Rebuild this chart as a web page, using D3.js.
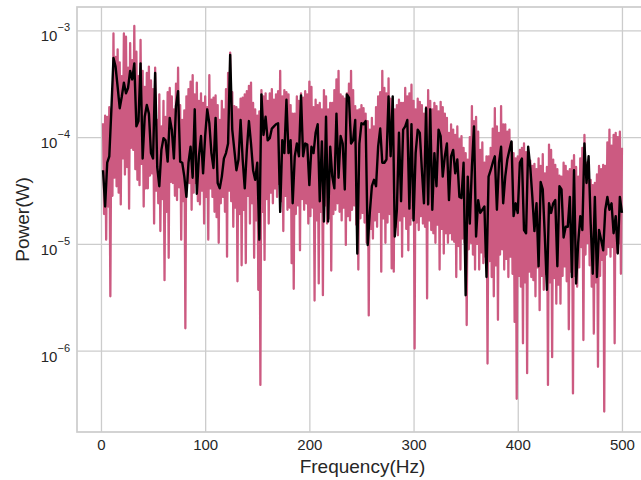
<!DOCTYPE html>
<html>
<head>
<meta charset="utf-8">
<script src="https://cdn.jsdelivr.net/npm/d3@7"></script>
<style>
  body { margin: 0; background: #fff; }
  text { font-family: "Liberation Sans", Arial, sans-serif; fill: #262626; }
</style>
</head>
<body>
<div class="chart"></div>
<script>
// raw spectrum: peaks at even Hz (2 ... 500), dips at odd Hz (3 ... 499)
// values are log10 of power (W)
const rawPeakExp = [
  -3.87, -3.80, -3.81, -3.72, -3.74, -3.03, -3.25, -3.18, -3.30, -3.43,
  -3.03, -3.06, -3.35, -3.12, -3.28, -2.96, -3.20, -3.43, -3.09, -3.38,
  -3.53, -3.40, -3.34, -3.47, -3.55, -3.35, -3.84, -3.60, -3.90, -3.66,
  -3.81, -3.58, -3.54, -3.62, -3.74, -3.50, -3.35, -3.70, -3.84, -3.75,
  -3.62, -3.55, -3.48, -3.42, -3.60, -3.49, -3.66, -3.59, -3.68, -3.62,
  -3.72, -3.42, -3.65, -3.63,
  -3.61, -3.70, -3.84, -3.66, -3.74, -3.55, -3.40, -3.21, -3.58, -3.71,
  -3.72, -3.74, -3.64, -3.63, -3.60, -3.57, -3.52, -3.49, -3.68, -3.74,
  -3.80, -3.76, -3.56, -3.62, -3.59, -3.66, -3.59, -3.55, -3.65, -3.60,
  -3.57, -3.38, -3.62, -3.56, -3.58, -3.60, -3.70, -3.78, -3.78, -3.62,
  -3.66, -3.59, -3.63, -3.57, -3.60, -3.48, -3.53, -3.72, -3.65, -3.70,
  -3.68, -3.74, -3.56, -3.62, -3.74, -3.68,
  -3.68, -3.56, -3.46, -3.38, -3.60, -3.62, -3.64, -3.59, -3.50, -3.38,
  -3.56, -3.71, -3.75, -3.74, -3.70, -3.73, -3.78, -3.85, -3.93, -3.82,
  -3.90, -3.72, -3.62, -3.58, -3.38, -3.54, -3.59, -3.45, -3.64, -3.74,
  -3.74, -3.70, -3.65, -3.68, -3.68, -3.54, -3.62, -3.59, -3.51, -3.66,
  -3.74, -3.64, -3.67, -3.70, -3.78, -3.72, -3.56, -3.66, -3.74, -3.68,
  -3.71, -3.76, -3.67, -3.72, -3.78, -3.82,
  -3.96, -3.88, -3.93, -3.98, -3.90, -4.02, -3.99, -4.10, -4.15, -4.21,
  -4.00, -3.71, -3.85, -3.81, -3.95, -4.12, -4.05, -4.24, -4.18, -4.18,
  -4.10, -3.92, -3.73, -3.90, -3.96, -3.71, -3.88, -3.88, -3.95, -3.93,
  -4.05, -4.15, -4.20, -4.18, -4.12, -4.10, -4.06, -4.14, -4.15, -4.22,
  -4.27, -4.25, -4.30, -4.20, -4.27, -4.16, -4.34, -4.28, -4.07, -4.12,
  -4.21, -4.26, -4.30, -4.36, -4.37, -4.24,
  -4.27, -4.32, -4.30, -4.22, -4.17, -4.28, -4.37, -4.20, -4.10, -3.98,
  -4.24, -4.37, -4.40, -4.45, -4.43, -4.35, -4.27, -4.30, -4.26, -4.27,
  -4.05, -3.93, -4.08, -3.98, -3.96, -4.00, -3.95, -4.10
];

const rawDipExp = [
  -4.72, -4.96, -4.65, -5.49, -4.55, -4.38, -4.46, -4.52, -4.63, -4.20,
  -4.35, -4.28, -4.67, -4.10, -4.12, -4.30, -4.40, -4.45, -4.25, -4.65,
  -4.48, -4.48, -4.36, -4.34, -4.81, -4.50, -4.62, -4.88, -4.58, -5.34,
  -4.70, -5.13, -4.42, -4.43, -4.55, -4.59, -4.47, -4.96, -4.60, -5.79,
  -4.43, -4.43, -4.68, -4.52, -4.43, -4.60, -4.63, -4.50, -4.81, -4.56,
  -4.96, -4.48, -4.56, -4.70,
  -4.75, -4.99, -4.62, -4.56, -4.70, -5.12, -4.50, -4.60, -4.84, -4.66,
  -5.35, -4.72, -5.20, -4.68, -5.18, -4.55, -4.81, -4.62, -5.13, -4.78,
  -5.43, -6.32, -4.70, -5.15, -4.58, -4.81, -4.52, -4.62, -4.48, -4.56,
  -4.44, -4.60, -4.88, -4.55, -4.68, -4.66, -5.18, -5.42, -4.72, -4.64,
  -5.06, -4.58, -4.68, -4.62, -4.81, -4.74, -4.66, -5.53, -4.78, -5.37,
  -4.70, -5.48, -4.64, -4.81, -4.76, -5.25,
  -4.72, -4.68, -4.62, -4.70, -4.78, -4.66, -5.01, -4.74, -4.78, -4.68,
  -4.64, -4.82, -5.24, -4.76, -4.71, -4.80, -4.99, -5.67, -4.86, -4.95,
  -4.78, -4.84, -4.70, -5.26, -4.76, -4.99, -4.80, -4.72, -5.23, -5.26,
  -4.84, -4.92, -4.78, -5.12, -4.74, -4.86, -5.06, -4.82, -4.76, -5.98,
  -4.80, -4.87, -4.74, -4.81, -4.84, -5.51, -4.78, -4.87, -4.90, -4.99,
  -4.82, -5.24, -4.86, -5.09, -4.90, -4.99,
  -4.90, -4.96, -4.98, -5.31, -5.02, -5.24, -4.95, -4.99, -5.76, -5.05,
  -4.99, -5.10, -5.24, -5.00, -5.24, -5.08, -5.18, -5.12, -6.12, -5.16,
  -5.31, -5.49, -5.20, -5.71, -5.10, -5.05, -5.24, -5.14, -5.31, -5.12,
  -5.28, -5.73, -6.45, -5.30, -5.40, -5.93, -5.36, -6.21, -5.26, -5.31,
  -5.34, -5.49, -5.22, -5.62, -5.30, -5.43, -5.28, -6.32, -5.36, -6.06,
  -5.32, -5.56, -5.38, -5.56, -5.30, -5.21,
  -5.35, -5.80, -5.26, -6.40, -5.30, -5.40, -5.22, -5.03, -5.90, -5.10,
  -4.99, -5.20, -5.40, -5.84, -5.36, -6.15, -5.30, -5.15, -6.57, -5.10,
  -5.03, -5.12, -5.03, -5.93, -5.08, -4.99, -5.28
];

// smoothed spectrum every 2 Hz (2 ... 500), log10 of power (W)
const smoothPowerExp = [
  -4.31, -4.65, -4.24, -4.18, -3.74, -3.26, -3.34, -3.53, -3.73, -3.62,
  -3.49, -3.59, -3.54, -3.38, -3.46, -3.31, -3.90, -3.85, -3.31, -4.20,
  -3.81, -3.70, -3.78, -4.15, -4.20, -3.40, -4.28, -4.46, -4.12, -4.01,
  -4.03, -4.23, -3.82, -3.93, -4.20, -3.71, -3.57, -4.23, -4.24, -4.37,
  -4.56, -4.24, -4.09, -4.38, -3.74, -4.53, -4.18, -3.99, -4.34, -3.99,
  -3.74, -3.87, -4.15, -4.29,
  -3.82, -4.43, -4.48, -4.37, -4.20, -4.15, -4.06, -3.23, -3.93, -4.12,
  -4.31, -4.21, -3.84, -4.21, -4.48, -4.12, -3.85, -4.06, -4.31, -4.40,
  -4.24, -4.96, -3.60, -3.98, -3.81, -4.03, -4.01, -3.92, -3.90, -3.88,
  -3.87, -4.70, -4.03, -4.15, -3.65, -4.15, -4.03, -4.62, -4.18, -4.06,
  -4.18, -3.61, -4.18, -4.06, -4.07, -4.45, -4.09, -4.15, -3.96, -3.88,
  -4.60, -4.04, -4.79, -3.81, -4.79, -4.09,
  -4.37, -4.48, -3.78, -4.38, -3.99, -4.06, -4.49, -3.60, -3.63, -4.06,
  -4.03, -3.84, -5.09, -4.06, -3.87, -3.88, -3.85, -5.01, -4.71, -4.46,
  -4.40, -4.46, -4.09, -3.92, -4.24, -4.24, -4.21, -3.62, -4.18, -3.62,
  -4.93, -4.68, -3.96, -4.60, -3.93, -3.90, -3.84, -4.67, -3.88, -4.78,
  -4.15, -3.93, -3.96, -4.31, -4.62, -3.73, -4.63, -3.74, -4.68, -4.15,
  -4.46, -3.93, -3.99, -4.37, -4.18, -4.06,
  -4.59, -4.18, -4.12, -4.34, -4.21, -4.56, -4.57, -4.24, -5.48, -4.37,
  -4.81, -4.28, -3.90, -4.93, -4.59, -4.71, -4.68, -4.65, -5.31, -4.37,
  -4.31, -4.24, -4.18, -4.68, -4.24, -4.09, -4.62, -4.37, -4.21, -4.12,
  -4.04, -4.74, -4.62, -4.71, -4.24, -4.20, -4.87, -4.90, -4.09, -4.28,
  -4.56, -4.88, -4.62, -5.21, -4.42, -4.49, -4.93, -5.43, -4.62, -4.71,
  -4.62, -4.59, -5.21, -4.46, -4.49, -4.94,
  -4.84, -4.84, -4.56, -5.31, -4.31, -5.37, -4.99, -4.74, -4.87, -4.06,
  -4.43, -4.18, -4.81, -5.28, -4.56, -5.31, -4.87, -4.96, -5.06, -4.68,
  -4.56, -4.68, -4.62, -4.90, -4.74, -5.09, -4.56, -4.71
];

const xTicks = [0, 100, 200, 300, 400, 500];
const yTickExp = [-3, -4, -5, -6];

const W = 641, H = 480;
const margin = {top: 7, right: -7, bottom: 48, left: 77};
const w = W - margin.left - margin.right;
const h = H - margin.top - margin.bottom;

const svg = d3.select(".chart")
    .append("svg")
    .attr("width", W)
    .attr("height", H);

const g = svg.append("g")
    .attr("transform", "translate(" + margin.left + "," + margin.top + ")");

const x = d3.scaleLinear().domain([-23, 525]).range([0, w]);
const y = d3.scaleLog().domain([Math.pow(10, -6.761), Math.pow(10, -2.782)]).range([h, 0]);

// grid
g.append("g")
    .attr("transform", "translate(0," + h + ")")
    .call(d3.axisBottom(x).tickValues(xTicks).tickSize(-h).tickFormat(""))
    .call(a => a.select(".domain").remove())
    .selectAll("line").attr("stroke", "#cccccc").attr("stroke-width", 1.3);

g.append("g")
    .call(d3.axisLeft(y).tickValues(yTickExp.map(e => Math.pow(10, e))).tickSize(-w).tickFormat(""))
    .call(a => a.select(".domain").remove())
    .selectAll("line").attr("stroke", "#cccccc").attr("stroke-width", 1.3);

// build point lists
let rawPoints = [];
rawPeakExp.forEach((e, k) => {
    rawPoints.push([2 + 2 * k, Math.pow(10, e)]);
    if (k < rawDipExp.length) rawPoints.push([3 + 2 * k, Math.pow(10, rawDipExp[k])]);
});
const smoothPoints = smoothPowerExp.map((e, i) => [2 + 2 * i, Math.pow(10, e)]);

g.append("clipPath").attr("id", "plot-area")
    .append("rect").attr("width", w).attr("height", h);

const line = d3.line()
    .x(d => x(d[0]))
    .y(d => y(d[1]));

g.append("path")
    .datum(rawPoints)
    .attr("clip-path", "url(#plot-area)")
    .attr("fill", "none")
    .attr("stroke", "#cc5a81")
    .attr("stroke-width", 2.3)
    .attr("stroke-linejoin", "round")
    .attr("d", line);

g.append("path")
    .datum(smoothPoints)
    .attr("clip-path", "url(#plot-area)")
    .attr("fill", "none")
    .attr("stroke", "#000000")
    .attr("stroke-width", 2.4)
    .attr("stroke-linejoin", "round")
    .attr("d", line);

// spines
g.append("rect")
    .attr("width", w)
    .attr("height", h)
    .attr("fill", "none")
    .attr("stroke", "#cccccc")
    .attr("stroke-width", 1.7);

// x tick labels
const xAxis = g.append("g")
    .attr("transform", "translate(0," + h + ")")
    .call(d3.axisBottom(x).tickValues(xTicks).tickSize(0).tickFormat(d3.format("d")));
xAxis.select(".domain").remove();
xAxis.selectAll("text")
    .attr("y", 18)
    .attr("dy", 0)
    .style("font-size", "15px")
    .attr("fill", "#262626");

// y tick labels as 10 with superscript
const yAxis = g.append("g")
    .call(d3.axisLeft(y).tickValues(yTickExp.map(e => Math.pow(10, e))).tickSize(0).tickFormat(""));
yAxis.select(".domain").remove();
yAxis.selectAll(".tick text").remove();
yAxis.selectAll(".tick").each(function(d) {
    const t = d3.select(this).append("text")
        .attr("x", -7)
        .attr("y", 10.5)
        .attr("text-anchor", "end")
        .attr("fill", "#262626");
    t.append("tspan").style("font-size", "15px").text("10");
    t.append("tspan").style("font-size", "11px").attr("dy", -10)
        .text("\u2212" + Math.round(-Math.log10(d)));
});

// axis labels
svg.append("text")
    .attr("x", margin.left + w / 2)
    .attr("y", 473)
    .attr("text-anchor", "middle")
    .style("font-size", "19px")
    .text("Frequency(Hz)");

svg.append("text")
    .attr("transform", "translate(28.5," + (margin.top + h / 2) + ") rotate(-90)")
    .attr("text-anchor", "middle")
    .style("font-size", "19px")
    .text("Power(W)");
</script>
</body>
</html>
